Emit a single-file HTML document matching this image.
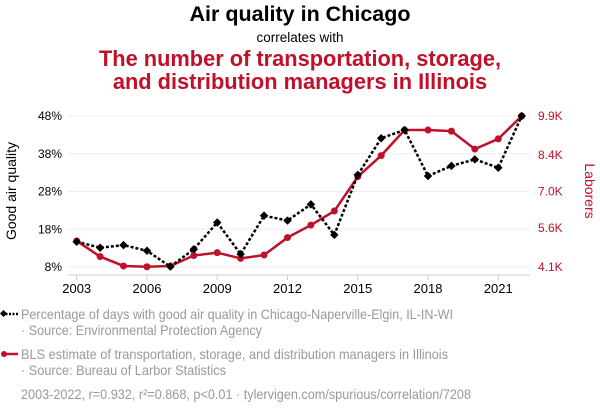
<!DOCTYPE html>
<html><head><meta charset="utf-8"><style>
body{margin:0;background:#fff;width:600px;height:414px;overflow:hidden;font-family:"Liberation Sans",Arial,sans-serif}
</style></head><body>
<svg id="chart" width="600" height="414" xmlns="http://www.w3.org/2000/svg" font-family="Liberation Sans, Arial, sans-serif">
<text x="300" y="21" text-anchor="middle" font-size="21.5" font-weight="bold" fill="#000">Air quality in Chicago</text>
<text x="300" y="42" text-anchor="middle" font-size="13.5" fill="#000">correlates with</text>
<text x="300" y="66" text-anchor="middle" font-size="21.8" font-weight="bold" fill="#c0102a">The number of transportation, storage,</text>
<text x="300" y="89" text-anchor="middle" font-size="21.8" font-weight="bold" fill="#c0102a">and distribution managers in Illinois</text>
<g id="grid"></g><g id="axes"></g><g id="series"></g>
<text transform="translate(16,191) rotate(-90)" text-anchor="middle" font-size="14" fill="#000">Good air quality</text>
<text transform="translate(585,191) rotate(90)" text-anchor="middle" font-size="14" fill="#c0102a">Laborers</text>
<g>
<line x1="2" y1="314" x2="18" y2="314" stroke="#000" stroke-width="2.5" stroke-dasharray="2,1.5"/>
<rect x="1" y="311" width="5" height="5" transform="rotate(45 3.5 313.5)" fill="#000"/>
<text x="21" y="319" font-size="14" fill="#999" textLength="432" lengthAdjust="spacingAndGlyphs">Percentage of days with good air quality in Chicago-Naperville-Elgin, IL-IN-WI</text>
<text x="21" y="335" font-size="14" fill="#999" textLength="241" lengthAdjust="spacingAndGlyphs">· Source: Environmental Protection Agency</text>
</g>
<g>
<line x1="3" y1="354" x2="18" y2="354" stroke="#c0102a" stroke-width="2.5"/>
<circle cx="4" cy="354" r="3" fill="#c0102a"/>
<text x="21" y="359" font-size="14" fill="#999" textLength="427" lengthAdjust="spacingAndGlyphs">BLS estimate of transportation, storage, and distribution managers in Illinois</text>
<text x="21" y="375" font-size="14" fill="#999" textLength="205" lengthAdjust="spacingAndGlyphs">· Source: Bureau of Larbor Statistics</text>
</g>
<text x="21" y="399" font-size="14" fill="#999" textLength="450" lengthAdjust="spacingAndGlyphs">2003-2022, r=0.932, r²=0.868, p&lt;0.01 · tylervigen.com/spurious/correlation/7208</text>
</svg>
<script>
const years=[2003,2004,2005,2006,2007,2008,2009,2010,2011,2012,2013,2014,2015,2016,2017,2018,2019,2020,2021,2022];
const airQuality=[14.7,13.1,13.8,12.3,8.1,12.7,19.8,11.4,21.6,20.3,24.6,16.5,32.4,42.1,44.3,32.1,34.8,36.5,34.3,48];
const managersK=[5.10,4.50,4.14,4.11,4.14,4.54,4.65,4.43,4.56,5.23,5.71,6.25,7.57,8.38,9.36,9.36,9.32,8.63,9.02,9.9];
const leftTicks=[8,18,28,38,48];
const rightTicks=[4.1,5.6,7.0,8.4,9.9];
const xTicks=[2003,2006,2009,2012,2015,2018,2021];
const NS="http://www.w3.org/2000/svg";
const x=v=>76.7+(v-2003)*(521.7-76.7)/19;
const yL=v=>267-(v-8)*(267-116)/40;
const yR=v=>267-(v-4.1)*(267-116)/5.8;
function mk(tag,attrs,parent){const e=document.createElementNS(NS,tag);for(const k in attrs)e.setAttribute(k,attrs[k]);parent.appendChild(e);return e;}
const grid=document.getElementById('grid'),axes=document.getElementById('axes'),series=document.getElementById('series');
leftTicks.forEach((t,i)=>{
 const g=mk('line',{x1:68,x2:530,y1:yL(t),y2:yL(t),stroke:'#eee','stroke-width':1},grid);
 
 
 const a=mk('text',{x:62,y:yL(t)+4,'text-anchor':'end','font-size':12,fill:'#000'},axes);
 a.textContent=t+'%';
 
 
 const b=mk('text',{x:538,y:yR(rightTicks[i])+4,'font-size':12,fill:'#c0102a'},axes);
 b.textContent=rightTicks[i].toFixed(1)+'K';
 
 
});
mk('line',{x1:68,x2:530,y1:275,y2:275,stroke:'#ccc'},axes);
xTicks.forEach(t=>{
 mk('line',{x1:x(t),x2:x(t),y1:275,y2:280,stroke:'#ccc'},axes);
 const e=mk('text',{x:x(t),y:293,'text-anchor':'middle','font-size':13,fill:'#000'},axes);
 e.textContent=t;
 
 
});
const rp=mk('polyline',{points:years.map((y,i)=>x(y)+','+yR(managersK[i])).join(' '),fill:'none',stroke:'#c0102a','stroke-width':2.5},series);


years.forEach((y,i)=>{
 const c=mk('circle',{cx:x(y),cy:yR(managersK[i]),r:3.5,fill:'#c0102a'},series);
 
 
});
const bp=mk('polyline',{points:years.map((y,i)=>x(y)+','+yL(airQuality[i])).join(' '),fill:'none',stroke:'#000','stroke-width':2.5,'stroke-dasharray':'3,2'},series);


years.forEach((y,i)=>{
 const cx=x(y),cy=yL(airQuality[i]);
 const d=mk('rect',{x:cx-3,y:cy-3,width:6,height:6,fill:'#000',transform:`rotate(45 ${cx} ${cy})`},series);
 
 
});
</script>
</body></html>
